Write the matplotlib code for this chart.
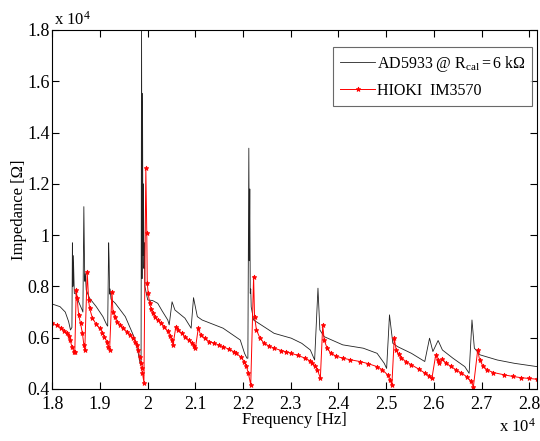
import matplotlib
matplotlib.use('Agg')
from matplotlib import pyplot as plt
import numpy as np

# AD5933 @ Rcal=6k (black), frequency and impedance in units of 1e4
ad_freq = [1.800, 1.816, 1.827, 1.834, 1.838, 1.841, 1.842, 1.843, 1.844, 1.846,
           1.850, 1.855, 1.862, 1.864, 1.866, 1.867, 1.868, 1.869, 1.871, 1.878,
           1.892, 1.906, 1.914, 1.916, 1.918, 1.919, 1.920, 1.921, 1.923, 1.932,
           1.953, 1.965, 1.973, 1.980, 1.984, 1.986, 1.987, 1.988, 1.989, 1.990,
           1.991, 1.992, 1.993, 1.994, 1.997, 2.000, 2.010, 2.021, 2.030, 2.042,
           2.045, 2.051, 2.057, 2.078, 2.091, 2.096, 2.104, 2.114, 2.158, 2.194,
           2.203, 2.208, 2.210, 2.212, 2.213, 2.214, 2.215, 2.216, 2.217, 2.222,
           2.265, 2.301, 2.323, 2.341, 2.350, 2.357, 2.361, 2.370, 2.409, 2.452,
           2.481, 2.496, 2.501, 2.507, 2.514, 2.524, 2.553, 2.581, 2.591, 2.598,
           2.609, 2.618, 2.640, 2.665, 2.674, 2.680, 2.685, 2.697, 2.733, 2.769,
           2.817]
ad_imp = [0.731, 0.721, 0.700, 0.663, 0.630, 0.640, 0.970, 0.800, 0.920, 0.773,
          0.770, 0.740, 0.710, 0.700, 1.111, 0.950, 0.820, 0.850, 0.786, 0.754,
          0.721, 0.682, 0.650, 0.645, 0.970, 0.900, 0.770, 0.790, 0.750, 0.734,
          0.682, 0.630, 0.595, 0.540, 0.500, 0.494, 1.850, 0.830, 1.553, 0.920,
          1.200, 0.870, 0.970, 0.800, 0.773, 0.747, 0.745, 0.734, 0.705, 0.669,
          0.650, 0.740, 0.708, 0.676, 0.637, 0.756, 0.682, 0.669, 0.637, 0.591,
          0.539, 0.520, 0.520, 1.339, 0.900, 1.180, 0.773, 0.790, 0.720, 0.669,
          0.617, 0.598, 0.578, 0.552, 0.513, 0.793, 0.630, 0.604, 0.572, 0.559,
          0.539, 0.500, 0.480, 0.689, 0.578, 0.565, 0.539, 0.507, 0.598, 0.546,
          0.589, 0.552, 0.520, 0.487, 0.461, 0.669, 0.559, 0.533, 0.513, 0.500,
          0.487]

# HIOKI IM3570 (red)
hk_freq = [1.800, 1.810, 1.819, 1.825, 1.830, 1.834, 1.837, 1.841, 1.845, 1.847,
           1.850, 1.852, 1.855, 1.859, 1.863, 1.866, 1.868, 1.873, 1.876, 1.878,
           1.884, 1.891, 1.899, 1.905, 1.909, 1.914, 1.917, 1.920, 1.925, 1.927,
           1.931, 1.935, 1.942, 1.949, 1.956, 1.963, 1.969, 1.974, 1.978, 1.980,
           1.983, 1.985, 1.987, 1.989, 1.992, 1.996, 1.998, 1.999, 2.001, 2.004,
           2.007, 2.010, 2.015, 2.021, 2.028, 2.035, 2.042, 2.047, 2.050, 2.053,
           2.059, 2.064, 2.071, 2.078, 2.086, 2.093, 2.097, 2.100, 2.106, 2.111,
           2.120, 2.129, 2.140, 2.150, 2.158, 2.170, 2.180, 2.186, 2.195, 2.202,
           2.207, 2.211, 2.216, 2.222, 2.224, 2.228, 2.235, 2.244, 2.255, 2.265,
           2.280, 2.290, 2.301, 2.315, 2.330, 2.340, 2.345, 2.351, 2.356, 2.362,
           2.367, 2.370, 2.376, 2.384, 2.395, 2.409, 2.425, 2.445, 2.462, 2.481,
           2.492, 2.503, 2.508, 2.512, 2.517, 2.521, 2.526, 2.532, 2.542, 2.553,
           2.568, 2.582, 2.590, 2.596, 2.604, 2.608, 2.611, 2.618, 2.626, 2.636,
           2.647, 2.658, 2.669, 2.677, 2.683, 2.692, 2.696, 2.703, 2.712, 2.725,
           2.748, 2.765, 2.783, 2.800, 2.816]
hk_imp = [0.656, 0.648, 0.637, 0.628, 0.617, 0.605, 0.591, 0.565, 0.546, 0.543,
          0.786, 0.754, 0.689, 0.656, 0.617, 0.572, 0.552, 0.858, 0.747, 0.715,
          0.676, 0.655, 0.637, 0.620, 0.604, 0.585, 0.565, 0.552, 0.780, 0.702,
          0.680, 0.663, 0.650, 0.637, 0.624, 0.611, 0.598, 0.585, 0.570, 0.552,
          0.525, 0.500, 0.480, 0.461, 0.425, 1.261, 1.007, 0.812, 0.773, 0.734,
          0.712, 0.695, 0.682, 0.669, 0.656, 0.643, 0.625, 0.605, 0.591, 0.572,
          0.643, 0.630, 0.617, 0.604, 0.591, 0.578, 0.568, 0.559, 0.637, 0.611,
          0.597, 0.585, 0.578, 0.571, 0.565, 0.555, 0.546, 0.539, 0.525, 0.507,
          0.488, 0.461, 0.416, 0.838, 0.682, 0.630, 0.600, 0.578, 0.567, 0.559,
          0.550, 0.545, 0.539, 0.531, 0.520, 0.510, 0.500, 0.490, 0.474, 0.442,
          0.650, 0.591, 0.560, 0.539, 0.528, 0.520, 0.514, 0.507, 0.499, 0.487,
          0.475, 0.455, 0.435, 0.416, 0.598, 0.552, 0.535, 0.520, 0.507, 0.494,
          0.478, 0.461, 0.452, 0.442, 0.533, 0.513, 0.500, 0.516, 0.500, 0.488,
          0.474, 0.462, 0.448, 0.432, 0.409, 0.552, 0.513, 0.490, 0.474, 0.464,
          0.455, 0.449, 0.444, 0.441, 0.438]

plt.rcParams['font.family'] = ['Liberation Serif', 'DejaVu Serif']
plt.rcParams['mathtext.fontset'] = 'custom'
plt.rcParams['mathtext.rm'] = 'Liberation Serif'
plt.rcParams['mathtext.it'] = 'Liberation Serif:italic'

fig = plt.figure(figsize=(5.4, 4.41), dpi=100)
ax = fig.add_axes([0.097, 0.118, 0.898, 0.814])

ax.plot(ad_freq, ad_imp, color='#222222', lw=0.6,
        label=r'$\mathregular{AD5{}9{}3{}3\ @\ R_{cal}{=}6\ k\Omega}$')
ax.plot(hk_freq, hk_imp, color='red', lw=0.7, marker='*', ms=3.5, mew=0.6,
        label='HIOKI  IM3570')

ax.set_xlim(1.8, 2.817)
ax.set_ylim(0.4, 1.8)
ax.set_xticks(np.arange(1.8, 2.81, 0.1))
ax.set_yticks(np.arange(0.4, 1.81, 0.2))
ax.xaxis.set_major_formatter(plt.FormatStrFormatter('%g'))
ax.yaxis.set_major_formatter(plt.FormatStrFormatter('%g'))
ax.tick_params(direction='in', top=True, right=True, labelsize=13, length=5)
ax.tick_params(axis='x', pad=5)
ax.tick_params(axis='y', pad=2)
for s in ax.spines.values():
    s.set_linewidth(0.8)

ax.set_xlabel('Frequency [Hz]', fontsize=12, labelpad=-1)
ax.set_ylabel('Impedance [Ω]', fontsize=12, labelpad=0)
fig.text(0.10, 0.935, r'x 10$^{\mathregular{4}}$', fontsize=12, ha='left', va='bottom')
fig.text(0.992, 0.012, r'x 10$^{\mathregular{4}}$', fontsize=12, ha='right', va='bottom')

leg = ax.legend(loc='upper right', bbox_to_anchor=(0.99, 0.953), borderaxespad=0,
                fontsize=11.5, frameon=True, fancybox=False, edgecolor='#444444',
                handlelength=2.2, handletextpad=0.1, borderpad=0.45, labelspacing=0.55)
leg.get_frame().set_linewidth(0.8)

fig.savefig('out.png', dpi=100)
